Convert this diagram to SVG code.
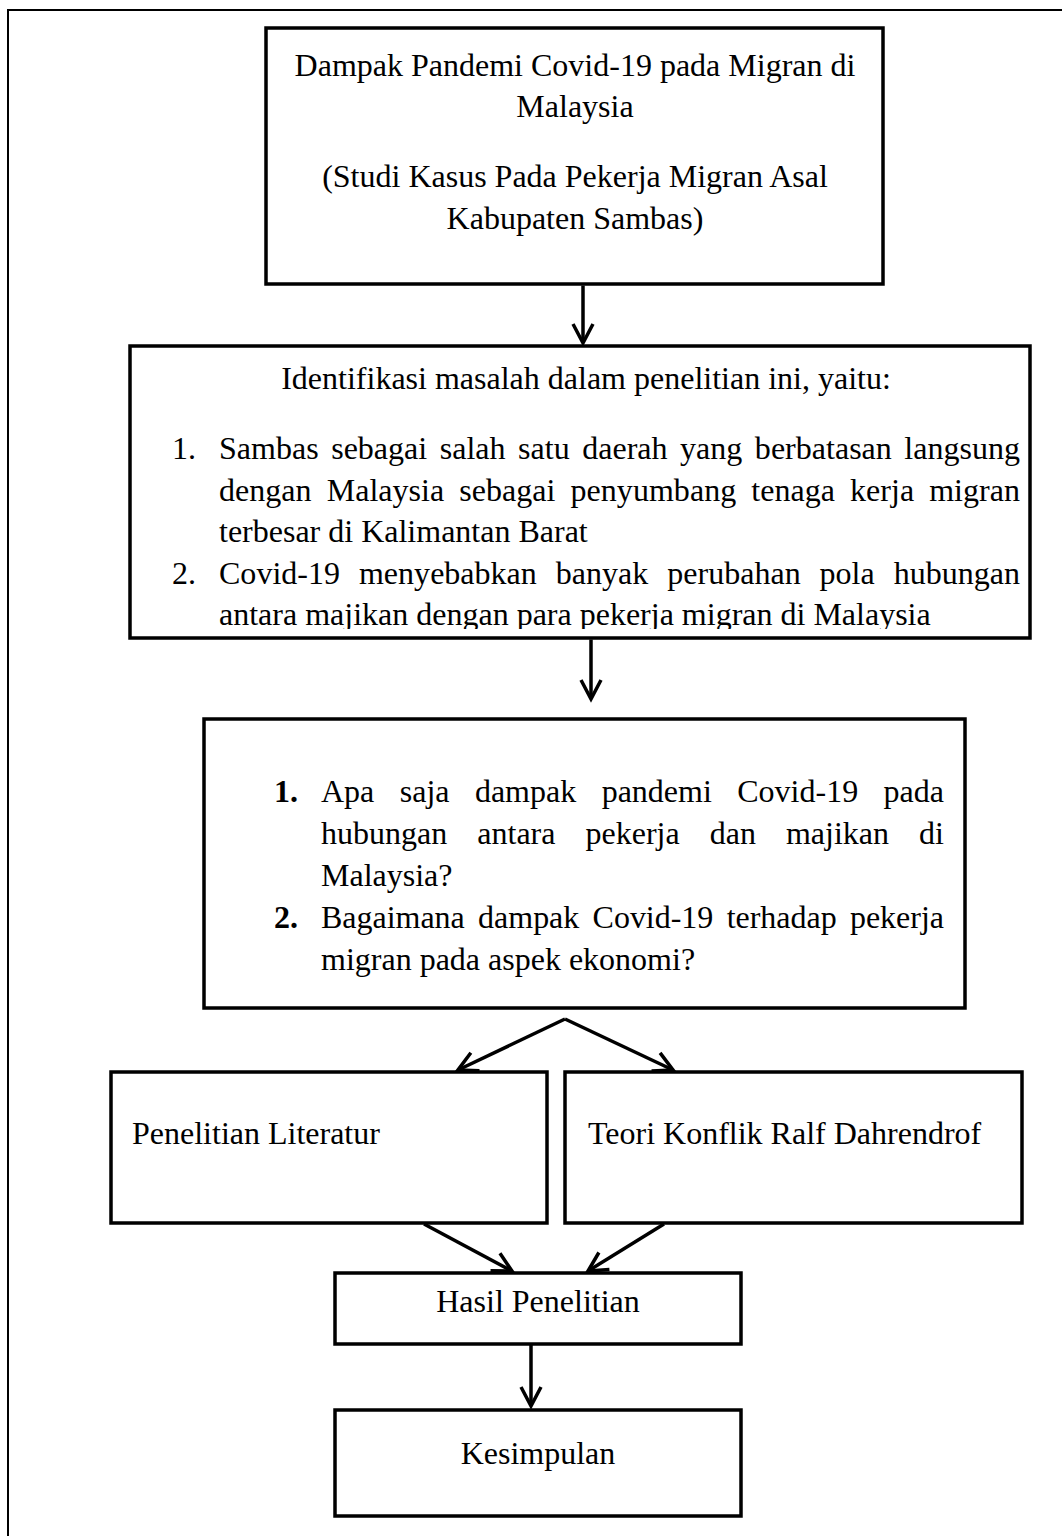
<svg xmlns="http://www.w3.org/2000/svg" width="1062" height="1536" viewBox="0 0 1062 1536">
<style>
.box{fill:#fff;stroke:#000;stroke-width:3.5}
.t{font-family:"Liberation Serif","Times New Roman",serif;font-size:32px;fill:#000}
.c{text-anchor:middle}
.b{font-weight:bold}
.con{stroke:#000;stroke-width:3.5;fill:none}
</style>
<defs>
<marker id="ah" markerUnits="userSpaceOnUse" markerWidth="24" markerHeight="24" refX="20" refY="11" orient="auto" viewBox="0 0 24 22" overflow="visible">
<path d="M1,1 L20,11 L1,21" fill="none" stroke="#000" stroke-width="3.5" stroke-linejoin="miter"/>
</marker>
<clipPath id="clip2"><rect x="130" y="346" width="900" height="283"/></clipPath>
</defs>
<rect width="1062" height="1536" fill="#fff"/>
<path d="M8,1536 L8,10 L1062,10" fill="none" stroke="#000" stroke-width="2"/>

<g id="n1">
<rect class="box" x="266" y="28" width="617" height="256"/>
<text class="t c" x="575" y="76">Dampak Pandemi Covid-19 pada Migran di</text>
<text class="t c" x="575" y="117">Malaysia</text>
<text class="t c" x="575" y="187">(Studi Kasus Pada Pekerja Migran Asal</text>
<text class="t c" x="575" y="229">Kabupaten Sambas)</text>
</g>

<g id="n2">
<rect class="box" x="130" y="346" width="900" height="292"/>
<text class="t c" x="586" y="389">Identifikasi masalah dalam penelitian ini, yaitu:</text>
<g clip-path="url(#clip2)">
<text class="t" x="172" y="459">1.</text>
<text class="t" x="219" y="459" textLength="801" lengthAdjust="spacing" style="word-spacing:4.5px">Sambas sebagai salah satu daerah yang berbatasan langsung</text>
<text class="t" x="219" y="500.5" textLength="801" lengthAdjust="spacing" style="word-spacing:7px">dengan Malaysia sebagai penyumbang tenaga kerja migran</text>
<text class="t" x="219" y="542">terbesar di Kalimantan Barat</text>
<text class="t" x="172" y="583.5">2.</text>
<text class="t" x="219" y="583.5" textLength="801" lengthAdjust="spacing" style="word-spacing:10.9px">Covid-19 menyebabkan banyak perubahan pola hubungan</text>
<text class="t" x="219" y="625">antara majikan dengan para pekerja migran di Malaysia</text>
</g>
</g>

<g id="n3">
<rect class="box" x="204" y="719" width="761" height="289"/>
<text class="t b" x="274" y="802">1.</text>
<text class="t" x="321" y="802" textLength="623" lengthAdjust="spacing" style="word-spacing:17.4px">Apa saja dampak pandemi Covid-19 pada</text>
<text class="t" x="321" y="844" textLength="623" lengthAdjust="spacing" style="word-spacing:22px">hubungan antara pekerja dan majikan di</text>
<text class="t" x="321" y="886">Malaysia?</text>
<text class="t b" x="274" y="928">2.</text>
<text class="t" x="321" y="928" textLength="623" lengthAdjust="spacing" style="word-spacing:5.3px">Bagaimana dampak Covid-19 terhadap pekerja</text>
<text class="t" x="321" y="970">migran pada aspek ekonomi?</text>
</g>

<g id="n4">
<rect class="box" x="111" y="1072" width="436" height="151"/>
<text class="t" x="132" y="1144">Penelitian Literatur</text>
</g>

<g id="n5">
<rect class="box" x="565" y="1072" width="457" height="151"/>
<text class="t" x="588" y="1144">Teori Konflik Ralf Dahrendrof</text>
</g>

<g id="n6">
<rect class="box" x="335" y="1273" width="406" height="71"/>
<text class="t c" x="538" y="1312">Hasil Penelitian</text>
</g>

<g id="n7">
<rect class="box" x="335" y="1410" width="406" height="106"/>
<text class="t c" x="538" y="1464">Kesimpulan</text>
</g>

<g id="connectors">
<line class="con" x1="583" y1="285.5" x2="583" y2="343" marker-end="url(#ah)"/>
<line class="con" x1="591" y1="639.5" x2="591" y2="699" marker-end="url(#ah)"/>
<line class="con" x1="565" y1="1019" x2="458" y2="1070" marker-end="url(#ah)"/>
<line class="con" x1="565" y1="1019" x2="673" y2="1070" marker-end="url(#ah)"/>
<line class="con" x1="424" y1="1224" x2="512" y2="1271" marker-end="url(#ah)"/>
<line class="con" x1="664" y1="1224" x2="588" y2="1271" marker-end="url(#ah)"/>
<line class="con" x1="531" y1="1345" x2="531" y2="1406" marker-end="url(#ah)"/>
</g>
</svg>
